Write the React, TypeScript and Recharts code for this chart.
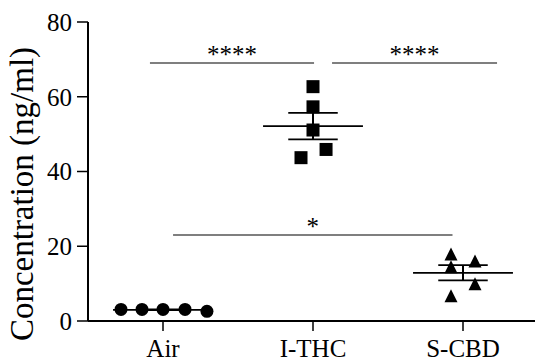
import React from "react";
import {
  ComposedChart,
  Scatter,
  XAxis,
  YAxis,
  ReferenceLine,
} from "recharts";

// group names on the x axis
const categories = ["Air", "I-THC", "S-CBD"];
const yTicks = [0, 20, 40, 60, 80];

// individual values (ng/ml), with their horizontal jitter
const airValues = [3.1, 3.1, 3.1, 3.1, 2.6];
const airJitter = [-0.28, -0.14, 0, 0.147, 0.293];
const thcValues = [62.7, 57.3, 51.1, 45.9, 43.7];
const thcJitter = [0, 0, 0, 0.087, -0.08];
const cbdValues = [17.8, 14.4, 6.6, 15.9, 9.8];
const cbdJitter = [-0.08, -0.08, -0.08, 0.08, 0.08];

// significance brackets
const sigLabels = ["****", "****", "*"];
const sigHeights = [69, 69, 23];
const sigStart = [-0.087, 1.127, 0.067];
const sigEnd = [1.007, 2.227, 1.93];

const FONT = "Liberation Serif";

const toPoints = (vals: number[], jitter: number[], idx: number) =>
  vals.map((v, i) => ({ x: idx + jitter[i], y: v }));

const meanSem = (vals: number[]) => {
  const n = vals.length;
  const m = vals.reduce((a, b) => a + b, 0) / n;
  const sd = Math.sqrt(vals.reduce((a, b) => a + (b - m) * (b - m), 0) / (n - 1));
  return { mean: m, sem: sd / Math.sqrt(n) };
};

const groups = [airValues, thcValues, cbdValues].map(meanSem);

const Circle = (p: any) => <circle cx={p.cx} cy={p.cy} r={6.5} fill="#000" />;
const Square = (p: any) => (
  <rect x={p.cx - 6.5} y={p.cy - 6.5} width={13} height={13} fill="#000" />
);
const Triangle = (p: any) => (
  <polygon
    points={`${p.cx},${p.cy - 7} ${p.cx - 6.5},${p.cy + 6} ${p.cx + 6.5},${p.cy + 6}`}
    fill="#000"
  />
);

const StarLabel = (text: string) => (props: any) => {
  const vb = props.viewBox;
  return (
    <text
      x={vb.x + vb.width / 2}
      y={vb.y}
      textAnchor="middle"
      style={{ fontFamily: FONT, fontSize: 25 }}
      fill="#000"
    >
      {text}
    </text>
  );
};

const YTitle = () => (
  <text
    x={33}
    y={194}
    transform="rotate(-90, 33, 194)"
    textAnchor="middle"
    style={{ fontFamily: FONT, fontSize: 33 }}
    fill="#000"
  >
    Concentration (ng/ml)
  </text>
);

const tickStyle = { fill: "#000", fontSize: 25, fontFamily: FONT, style: { fontFamily: FONT } };

export default function App() {
  return (
    <div
      style={{
        position: "absolute",
        left: 0,
        top: 0,
        width: 535,
        height: 361,
        background: "#fff",
        fontFamily: FONT,
      }}
    >
      <ComposedChart
        width={535}
        height={361}
        margin={{ top: 22, right: 0, bottom: 0, left: 0 }}
        style={{ fontFamily: FONT }}
      >
        <XAxis
          type="number"
          dataKey="x"
          domain={[-0.5, 2.48]}
          ticks={[0, 1, 2]}
          tickFormatter={(v: number) => categories[v]}
          height={40}
          tickSize={10}
          tickMargin={8}
          axisLine={{ stroke: "#000", strokeWidth: 2 }}
          tickLine={{ stroke: "#000", strokeWidth: 1.5 }}
          tick={tickStyle}
          allowDataOverflow
        />
        <YAxis
          type="number"
          dataKey="y"
          domain={[0, 80]}
          ticks={yTicks}
          width={88}
          tickSize={11}
          tickMargin={5}
          axisLine={{ stroke: "#000", strokeWidth: 2 }}
          tickLine={{ stroke: "#000", strokeWidth: 1.5 }}
          tick={tickStyle}
          label={{ content: <YTitle /> }}
        />

        {groups.map((g, i) => (
          <ReferenceLine
            key={`mean-${i}`}
            segment={[{ x: i - 0.333, y: g.mean }, { x: i + 0.333, y: g.mean }]}
            stroke="#000"
            strokeWidth={1.8}
            ifOverflow="visible"
          />
        ))}
        {groups.map((g, i) => (
          <ReferenceLine
            key={`bar-${i}`}
            segment={[{ x: i, y: g.mean - g.sem }, { x: i, y: g.mean + g.sem }]}
            stroke="#000"
            strokeWidth={2}
            ifOverflow="visible"
          />
        ))}
        {groups.map((g, i) => (
          <ReferenceLine
            key={`capu-${i}`}
            segment={[{ x: i - 0.165, y: g.mean + g.sem }, { x: i + 0.165, y: g.mean + g.sem }]}
            stroke="#000"
            strokeWidth={1.8}
            ifOverflow="visible"
          />
        ))}
        {groups.map((g, i) => (
          <ReferenceLine
            key={`capl-${i}`}
            segment={[{ x: i - 0.165, y: g.mean - g.sem }, { x: i + 0.165, y: g.mean - g.sem }]}
            stroke="#000"
            strokeWidth={1.8}
            ifOverflow="visible"
          />
        ))}

        {sigLabels.map((s, i) => (
          <ReferenceLine
            key={`sig-${i}`}
            segment={[{ x: sigStart[i], y: sigHeights[i] }, { x: sigEnd[i], y: sigHeights[i] }]}
            stroke="#555"
            strokeWidth={1.5}
            ifOverflow="visible"
            label={StarLabel(s)}
          />
        ))}

        <Scatter data={toPoints(airValues, airJitter, 0)} shape={Circle} isAnimationActive={false} />
        <Scatter data={toPoints(thcValues, thcJitter, 1)} shape={Square} isAnimationActive={false} />
        <Scatter data={toPoints(cbdValues, cbdJitter, 2)} shape={Triangle} isAnimationActive={false} />
      </ComposedChart>
    </div>
  );
}
